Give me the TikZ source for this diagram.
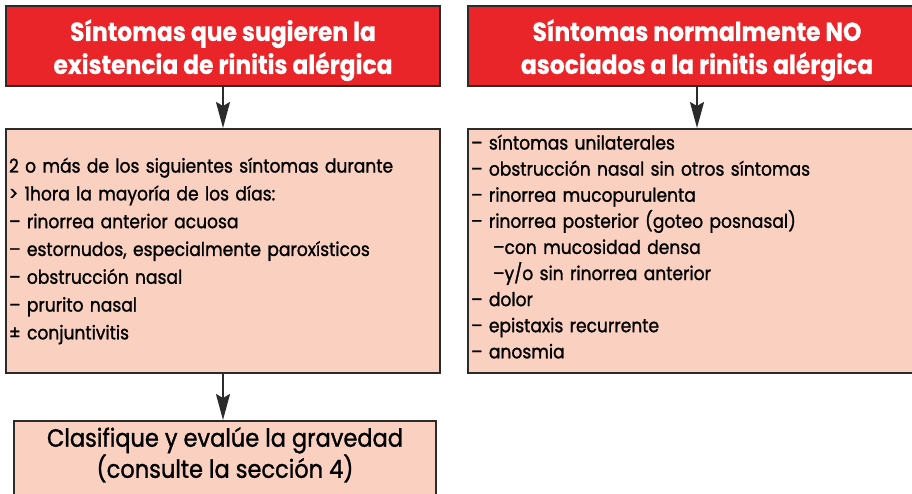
\documentclass[tikz,border=0pt]{standalone}
\usepackage{fontspec}
\setmainfont{Poppins}[FakeStretch=0.9]
\usetikzlibrary{arrows.meta}
\definecolor{hdred}{RGB}{233,37,42}
\definecolor{bodypink}{RGB}{250,208,192}
\definecolor{edge}{RGB}{45,42,42}
\tikzset{
  hdbox/.style={draw=edge, line width=2pt, fill=hdred, text=white, align=center,
    font=\fontsize{26}{33}\selectfont\bfseries\addfontfeatures{FakeBold=0.6}, anchor=north west, inner sep=0pt},
  listbox/.style={draw=edge, line width=2pt, fill=bodypink, text=black, align=left,
    anchor=north west, inner xsep=3pt, inner ysep=0pt},
  leftlist/.style={listbox, font=\fontsize{19}{27.8}\selectfont\addfontfeatures{FakeBold=1.2}},
  rightlist/.style={listbox, font=\fontsize{19}{26.1}\selectfont\addfontfeatures{FakeBold=1.2}},
  endbox/.style={draw=edge, line width=2pt, fill=bodypink, text=black, align=center,
    font=\fontsize{25}{28}\selectfont\addfontfeatures{FakeBold=1.2}, anchor=north west, inner sep=0pt},
  flow/.style={draw=edge, line width=2pt, -{Stealth[length=26pt,width=14pt,inset=4pt]}}
}
\begin{document}
\begin{tikzpicture}[x=1pt,y=-1pt]
\useasboundingbox (0,0) rectangle (912,494);
\clip (0,0) rectangle (912,494);
\node[hdbox, minimum width=434pt, minimum height=80pt] (h1) at (5,5)
  {\rule{0pt}{30pt}Síntomas que sugieren la\\existencia de rinitis alérgica};
\node[hdbox, minimum width=458pt, minimum height=80pt] (h2) at (467,5)
  {\rule{0pt}{30pt}Síntomas normalmente NO\\asociados a la rinitis alérgica};
\node[leftlist, minimum width=434pt, minimum height=244pt, text width=428pt] (b1) at (5,128)
  {2 o más de los siguientes síntomas durante\\
   > 1hora la mayoría de los días:\\
   – rinorrea anterior acuosa\\
   – estornudos, especialmente paroxísticos\\
   – obstrucción nasal\\
   – prurito nasal\\
   ± conjuntivitis};
\node[rightlist, minimum width=458pt, minimum height=244pt, text width=452pt] (b2) at (467,128)
  {– síntomas unilaterales\\
   – obstrucción nasal sin otros síntomas\\
   – rinorrea mucopurulenta\\
   – rinorrea posterior (goteo posnasal)\\
   \hspace*{22pt}–con mucosidad densa\\
   \hspace*{22pt}–y/o sin rinorrea anterior\\
   – dolor\\
   – epistaxis recurrente\\
   – anosmia\rule[-9pt]{0pt}{9pt}};
\node[endbox, minimum width=422pt, minimum height=76pt] (c) at (13,420)
  {Clasifique y evalúe la gravedad\\(consulte la sección 4)\rule[-13pt]{0pt}{13pt}};
\draw[flow] (h1.south) -- (b1.north);
\draw[flow] (h2.south) -- (b2.north);
\draw[flow] (b1.south) -- (b1.south |- c.north);
\end{tikzpicture}
\end{document}
